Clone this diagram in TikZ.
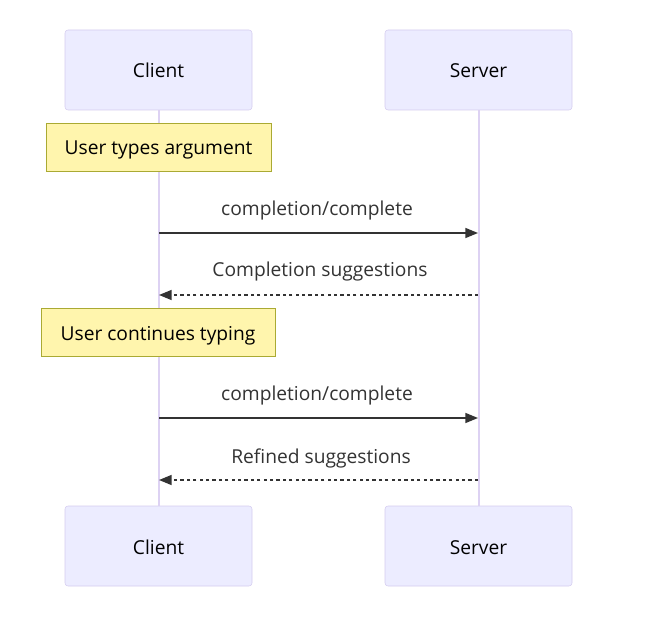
\documentclass[tikz,border=0pt]{standalone}
\usepackage{fontspec}
\setmainfont{Open Sans}
\usepackage{xcolor}
\usetikzlibrary{arrows.meta}
\definecolor{actorfill}{HTML}{ECECFF}
\definecolor{actorline}{HTML}{D5CCEF}
\definecolor{lifeline}{HTML}{DDD2F3}
\definecolor{notefill}{HTML}{FFF5AD}
\definecolor{noteline}{HTML}{AAAA33}
\definecolor{msgcol}{HTML}{333333}
\tikzset{
  actor/.style={draw=actorline,fill=actorfill,rounded corners=2.25pt,minimum width=140.25pt,minimum height=60pt,text height=13pt,text depth=1pt,font=\fontsize{14.4}{16}\selectfont},
  notebox/.style={draw=noteline,fill=notefill,minimum height=36pt,text height=13pt,text depth=1pt,font=\fontsize{14.4}{16}\selectfont},
  msgtext/.style={font=\fontsize{14.4}{16}\selectfont,text=msgcol},
  call/.style={draw=msgcol,line width=1.1pt,-{Triangle[length=9.5pt,width=7.5pt]}},
  reply/.style={call,dash pattern=on 2.4pt off 2.4pt},
}
\begin{document}
\begin{tikzpicture}[x=0.75pt,y=-0.75pt]
    \useasboundingbox (0,0) rectangle (660,623);
    % actors
    \node[actor] (clientTop) at (158.5,70) {Client};
    \node[actor] (serverTop) at (478.5,70) {Server};
    \node[actor] (clientBot) at (158.5,546) {Client};
    \node[actor] (serverBot) at (478.5,546) {Server};
    % lifelines
    \draw[lifeline,line width=1.5pt] (clientTop) -- (clientBot);
    \draw[lifeline,line width=1.5pt] (serverTop) -- (serverBot);
    % notes
    \node[notebox,minimum width=168.75pt] (typing) at (158.5,147) {User types argument};
    \node[notebox,minimum width=175.5pt] (continue) at (158,332.5) {User continues typing};
    % message points
    \coordinate (c1) at (159,233); \coordinate (s1) at (478,233);
    \coordinate (c2) at (159,295); \coordinate (s2) at (478,295);
    \coordinate (c3) at (159,418); \coordinate (s3) at (478,418);
    \coordinate (c4) at (159,480); \coordinate (s4) at (478,480);
    % messages
    \draw[call] (c1) -- (s1);
    \node[msgtext] (m1) at (317,211) {completion/complete};
    \draw[reply] (s2) -- (c2);
    \node[msgtext] (m2) at (320,272) {Completion suggestions};
    \draw[call] (c3) -- (s3);
    \node[msgtext] (m3) at (317,396) {completion/complete};
    \draw[reply] (s4) -- (c4);
    \node[msgtext] (m4) at (321,458) {Refined suggestions};
\end{tikzpicture}
\end{document}
